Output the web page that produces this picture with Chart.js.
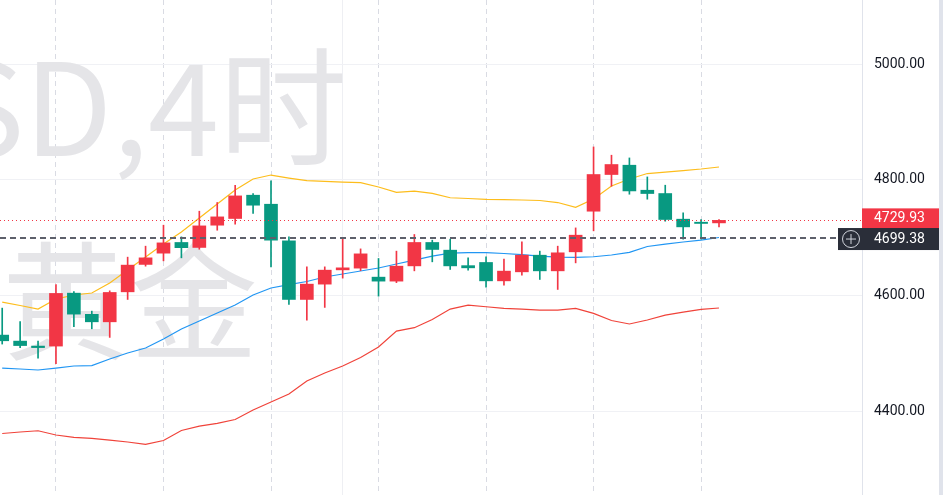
<!DOCTYPE html>
<html>
<head>
<meta charset="utf-8">
<script src="https://cdn.jsdelivr.net/npm/chart.js@4.4.1/dist/chart.umd.min.js"></script>
<style>
  html, body { margin: 0; padding: 0; background: #ffffff; }
  #wrap { width: 943px; height: 495px; position: relative; }
</style>
</head>
<body>
<div id="wrap"><canvas id="myChart"></canvas></div>
<script>
// 4h candles, oldest first
const opens  = [4531.4, 4521.0, 4512.4, 4512.4, 4604.0, 4567.4, 4554.4, 4606.3, 4653.7, 4673.2,
                4691.7, 4683.1, 4721.6, 4733.2, 4773.5, 4757.9, 4694.5, 4593.1, 4619.6, 4644.3,
                4647.3, 4631.7, 4624.8, 4651.2, 4691.7, 4678.4, 4651.6, 4657.1, 4625.3, 4640.9,
                4669.7, 4642.6, 4675.5, 4745.8, 4809.3, 4825.4, 4782.1, 4776.4, 4732.0, 4726.8,
                4725.6];
const highs  = [4578.1, 4554.8, 4521.0, 4618.7, 4606.6, 4572.9, 4608.0, 4666.3, 4685.3, 4721.6,
                4701.4, 4745.8, 4760.9, 4790.8, 4776.4, 4798.2, 4701.4, 4649.5, 4649.5, 4698.6,
                4680.6, 4664.0, 4676.7, 4705.5, 4695.7, 4697.4, 4665.1, 4666.8, 4662.8, 4692.7,
                4676.7, 4685.3, 4716.9, 4857.0, 4842.7, 4838.0, 4805.1, 4790.8, 4742.9, 4731.5,
                4731.5];
const lows   = [4515.9, 4509.5, 4491.6, 4482.1, 4545.8, 4542.3, 4527.4, 4593.1, 4650.7, 4659.9,
                4665.1, 4680.0, 4712.9, 4723.3, 4741.8, 4649.5, 4584.5, 4557.3, 4579.3, 4630.0,
                4642.9, 4598.8, 4622.2, 4642.6, 4658.2, 4645.0, 4643.8, 4614.4, 4617.9, 4635.2,
                4627.7, 4610.4, 4656.4, 4711.8, 4789.0, 4775.2, 4766.6, 4728.5, 4697.4, 4697.4,
                4718.7];
const closes = [4521.6, 4513.3, 4509.8, 4603.5, 4567.7, 4554.4, 4605.2, 4652.5, 4665.1, 4691.0,
                4682.7, 4720.4, 4736.0, 4772.3, 4756.2, 4695.7, 4593.1, 4619.6, 4643.8, 4647.8,
                4672.0, 4624.8, 4650.7, 4691.7, 4679.6, 4651.2, 4647.8, 4625.3, 4642.1, 4669.7,
                4642.6, 4673.8, 4704.3, 4809.3, 4826.6, 4780.9, 4776.4, 4731.5, 4718.7, 4724.6,
                4729.93];

// Bollinger bands
const upperBand  = [4588.6, 4582.6, 4576.5, 4593.8, 4600.8, 4604.2, 4621.5, 4644.0, 4666.5, 4689.0,
                    4709.8, 4734.0, 4758.2, 4782.5, 4801.5, 4808.4, 4803.2, 4798.6, 4797.5, 4796.3,
                    4795.1, 4787.7, 4778.5, 4780.7, 4776.8, 4769.1, 4767.8, 4766.4, 4765.7, 4765.2,
                    4764.3, 4760.8, 4752.5, 4766.9, 4789.4, 4801.5, 4811.0, 4813.6, 4816.2, 4818.8,
                    4822.3];
const middleBand = [4474.4, 4472.7, 4471.0, 4474.4, 4477.9, 4478.7, 4490.0, 4500.4, 4509.0, 4524.6,
                    4541.9, 4555.8, 4569.6, 4583.4, 4600.8, 4612.9, 4618.9, 4624.1, 4631.9, 4637.1,
                    4642.3, 4647.5, 4654.4, 4661.3, 4668.2, 4673.4, 4674.3, 4674.0, 4672.6, 4670.8,
                    4668.2, 4666.5, 4666.0, 4667.0, 4670.0, 4674.6, 4684.7, 4689.0, 4692.5, 4695.9,
                    4700.3];
const lowerBand  = [4361.1, 4363.7, 4365.9, 4358.5, 4354.5, 4352.8, 4349.8, 4346.4, 4342.4, 4349.0,
                    4366.3, 4374.0, 4378.7, 4385.3, 4401.7, 4415.6, 4429.4, 4451.9, 4465.8, 4477.9,
                    4492.6, 4510.8, 4538.4, 4544.2, 4558.4, 4576.5, 4583.4, 4580.5, 4577.7, 4576.5,
                    4574.8, 4574.8, 4577.7, 4569.1, 4556.6, 4550.6, 4557.5, 4566.1, 4571.3, 4576.0,
                    4578.3];

const yTicks = [4400, 4600, 4800, 5000];
const dayLines = [3, 9, 15, 21, 27, 33, 39];
const weekLines = [19];
const lastPrice = 4729.93;
const markPrice = 4699.38;
const wmTitle = 'XAUUSD,4时';
const wmName = '黄金';

const X_MIN = -0.123, X_MAX = 47.98;
const Y_MIN = 4254.7, Y_MAX = 5111.3;
const UP = '#f23645', DOWN = '#089981';

const idx = opens.map((_, i) => i);
const candleColors = idx.map(i => closes[i] >= opens[i] ? UP : DOWN);
const bodies = idx.map(i => ({x: i, y: [opens[i], closes[i]]}));
const wicks  = idx.map(i => ({x: i, y: [lows[i], highs[i]]}));
const asLine = arr => arr.map((v, i) => ({x: i, y: v}));

const watermark = {
  id: 'watermark',
  beforeDatasetsDraw(chart) {
    const {ctx, chartArea} = chart;
    ctx.save();
    ctx.beginPath();
    ctx.rect(chartArea.left, chartArea.top, chartArea.right - chartArea.left, chartArea.bottom - chartArea.top);
    ctx.clip();
    ctx.fillStyle = '#e5e5e8';
    ctx.font = '128px "Noto Sans CJK SC"';
    ctx.textBaseline = 'middle';
    ctx.textAlign = 'right';
    ctx.fillText(wmTitle, 347, 107);
    ctx.textAlign = 'left';
    ctx.fillText(wmName, 2, 301);
    ctx.restore();
  }
};

const priceLines = {
  id: 'priceLines',
  afterDatasetsDraw(chart) {
    const {ctx, chartArea, scales} = chart;
    const yLast = Math.round(scales.y.getPixelForValue(lastPrice)) + 0.5;
    const yMark = Math.round(scales.y.getPixelForValue(markPrice));
    ctx.save();
    ctx.strokeStyle = UP;
    ctx.lineWidth = 1;
    ctx.setLineDash([1, 3]);
    ctx.beginPath();
    ctx.moveTo(chartArea.left, yLast);
    ctx.lineTo(chartArea.right, yLast);
    ctx.stroke();
    ctx.strokeStyle = '#5d606b';
    ctx.lineWidth = 2;
    ctx.setLineDash([6, 4]);
    ctx.beginPath();
    ctx.moveTo(chartArea.left, yMark);
    ctx.lineTo(chartArea.right - 24, yMark);
    ctx.stroke();
    ctx.restore();
  },
  afterDraw(chart) {
    const {ctx, chartArea, scales} = chart;
    const yLast = scales.y.getPixelForValue(lastPrice) - 1.5;
    const yMark = scales.y.getPixelForValue(markPrice) + 1;
    const right = 939;
    ctx.save();
    ctx.fillStyle = '#e0e3eb';
    ctx.fillRect(right, 0, 943 - right, 495);
    ctx.fillStyle = UP;
    ctx.fillRect(chartArea.right, yLast - 10.5, right - chartArea.right, 21);
    ctx.fillStyle = '#2a2e39';
    ctx.fillRect(chartArea.right - 24, yMark - 11, right - chartArea.right + 24, 22);
    ctx.font = '14px Roboto';
    ctx.fillStyle = '#ffffff';
    ctx.textBaseline = 'middle';
    ctx.textAlign = 'left';
    ctx.fillText(lastPrice.toFixed(2), chartArea.right + 12, yLast);
    ctx.fillText(markPrice.toFixed(2), chartArea.right + 12, yMark);
    // crosshair button
    const cx = chartArea.right - 11, cy = yMark;
    ctx.strokeStyle = '#d1d4dc';
    ctx.lineWidth = 1;
    ctx.beginPath();
    ctx.arc(cx, cy, 8.5, 0, Math.PI * 2);
    ctx.stroke();
    ctx.beginPath();
    ctx.moveTo(cx - 5, cy); ctx.lineTo(cx + 5, cy);
    ctx.moveTo(cx, cy - 5); ctx.lineTo(cx, cy + 5);
    ctx.stroke();
    ctx.restore();
  }
};

const ctxt = document.getElementById('myChart').getContext('2d');

const myChart = new Chart(ctxt, {
  type: 'bar',
  data: {
    datasets: [
      { type: 'line', label: 'upper', data: asLine(upperBand), borderColor: '#fdbd1c', borderWidth: 1.2, pointRadius: 0, tension: 0, order: 3 },
      { type: 'line', label: 'basis', data: asLine(middleBand), borderColor: '#2196f3', borderWidth: 1.2, pointRadius: 0, tension: 0, order: 3 },
      { type: 'line', label: 'lower', data: asLine(lowerBand), borderColor: '#f0433a', borderWidth: 1.2, pointRadius: 0, tension: 0, order: 3 },
      { label: 'wick', data: wicks, backgroundColor: candleColors, barThickness: 1, grouped: false, minBarLength: 1, order: 2 },
      { label: 'body', data: bodies, backgroundColor: candleColors, barThickness: 13, grouped: false, minBarLength: 1, order: 1 }
    ]
  },
  options: {
    responsive: true,
    maintainAspectRatio: false,
    animation: false,
    layout: { padding: 0, autoPadding: false },
    plugins: { legend: { display: false }, tooltip: { enabled: false } },
    scales: {
      x: {
        type: 'linear', min: X_MIN, max: X_MAX, offset: false,
        ticks: { display: false },
        grid: { color: '#d9dbe3', drawTicks: false, offset: false },
        border: { display: false, dash: [5, 4] },
        afterBuildTicks: s => { s.ticks = dayLines.map(v => ({value: v})); },
        afterFit: s => { s.height = 0; s.paddingLeft = 0; s.paddingRight = 0; }
      },
      x2: {
        type: 'linear', position: 'bottom', min: X_MIN, max: X_MAX, offset: false,
        ticks: { display: false },
        grid: { color: '#eeeff3', drawTicks: false, offset: false },
        border: { display: false },
        afterBuildTicks: s => { s.ticks = weekLines.map(v => ({value: v})); },
        afterFit: s => { s.height = 0; s.paddingLeft = 0; s.paddingRight = 0; }
      },
      y: {
        position: 'right', min: Y_MIN, max: Y_MAX,
        afterBuildTicks: s => { s.ticks = yTicks.map(v => ({value: v})); },
        ticks: {
          callback: v => v.toFixed(2),
          color: '#131722', padding: 12,
          font: { family: 'Roboto', size: 14 }
        },
        grid: { color: '#f0f1f5', drawTicks: false },
        border: { color: '#e0e3eb' },
        afterFit: s => { s.width = 81; s.paddingTop = 0; s.paddingBottom = 0; }
      }
    }
  },
  plugins: [watermark, priceLines]
});
</script>
</body>
</html>
